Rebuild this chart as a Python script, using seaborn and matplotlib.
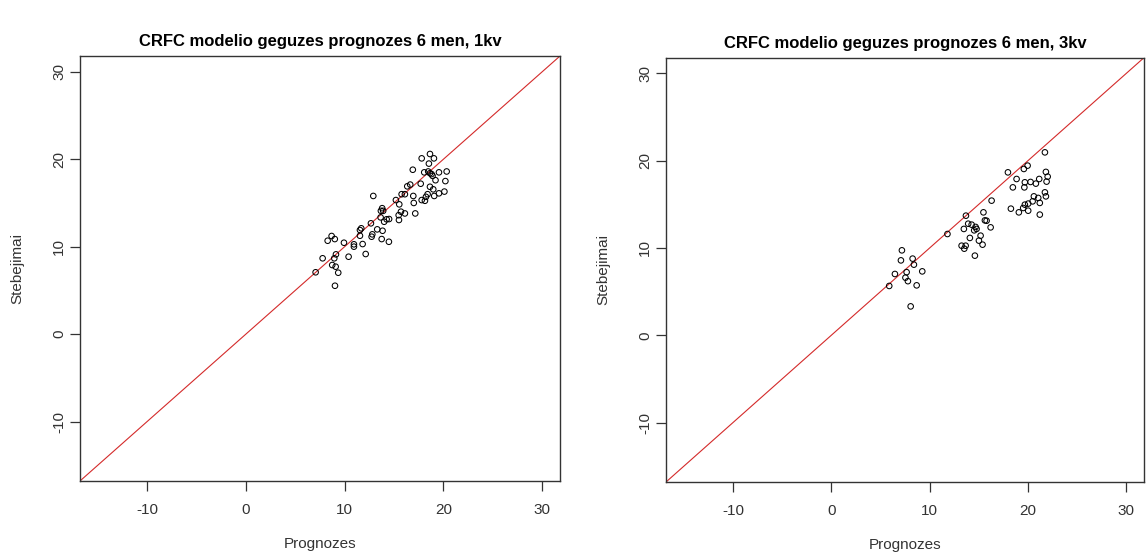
import matplotlib
matplotlib.use("Agg")
import matplotlib.pyplot as plt
import seaborn as sns
import numpy as np
import pandas as pd

# ---- data ----
titles = ["CRFC modelio geguzes prognozes 6 men, 1kv",
          "CRFC modelio geguzes prognozes 6 men, 3kv"]
xlabel = "Prognozes"
ylabel = "Stebejimai"
ticks = [-10, 0, 10, 20, 30]
lims = [-15, 30]

prog_1kv = [17.8, 18.64, 19.04, 18.53, 16.9, 18.06, 18.46, 18.64, 18.8, 18.9,
            19.55, 20.33, 19.2, 20.2, 17.7, 16.64, 16.34, 18.64, 18.97, 20.1,
            19.55, 19.07, 18.4, 18.23, 17.8, 18.13, 16.95, 17.0, 16.1, 15.77,
            12.9, 15.19, 15.53, 17.15, 16.1, 15.7, 15.47, 15.5, 13.8, 13.9,
            13.67, 14.25, 14.5, 14.0, 13.64, 12.66, 11.68, 11.55, 11.55, 13.3,
            13.84, 12.8, 12.73, 13.75, 14.48, 9.93, 10.94, 10.94, 11.82, 12.13,
            10.4, 8.28, 8.68, 9.0, 9.12, 8.95, 8.74, 9.09, 9.35, 7.77,
            7.06, 9.02]
obs_1kv = [20.1, 20.6, 20.1, 19.5, 18.8, 18.5, 18.6, 18.4, 18.3, 18.1,
           18.5, 18.6, 17.6, 17.5, 17.2, 17.1, 16.9, 16.85, 16.56, 16.3,
           16.1, 15.8, 16.0, 15.7, 15.33, 15.25, 15.8, 15.0, 16.0, 16.0,
           15.8, 15.33, 14.84, 13.8, 13.8, 14.0, 13.6, 13.05, 14.4, 14.1,
           14.1, 13.13, 13.16, 12.85, 13.35, 12.67, 12.1, 11.9, 11.25, 11.98,
           11.82, 11.41, 11.14, 10.87, 10.56, 10.45, 10.27, 10.0, 10.3, 9.16,
           8.85, 10.68, 11.22, 10.87, 9.12, 8.67, 7.9, 7.71, 7.02, 8.67,
           7.07, 5.53]

prog_3kv = [21.72, 19.96, 19.58, 17.96, 18.84, 18.46, 19.68, 19.63, 20.26, 20.8,
            21.14, 21.82, 22.0, 21.89, 20.6, 21.04, 20.47, 20.02, 19.68, 19.51,
            19.07, 18.26, 20.02, 21.2, 21.72, 21.82, 21.2, 16.3, 15.47, 13.69,
            15.62, 15.79, 16.2, 13.92, 13.48, 14.27, 14.67, 14.53, 14.77, 14.09,
            15.18, 15.01, 15.38, 13.25, 13.52, 13.66, 14.6, 11.81, 7.18, 7.08,
            8.27, 8.4, 9.25, 6.47, 7.66, 7.54, 7.79, 8.68, 5.89, 8.07]
obs_3kv = [20.95, 19.43, 19.05, 18.66, 17.9, 16.94, 17.52, 16.94, 17.56, 17.37,
           17.9, 18.71, 18.17, 17.6, 15.91, 15.73, 15.34, 15.08, 14.96, 14.58,
           14.08, 14.5, 14.27, 15.16, 16.37, 15.91, 13.82, 15.42, 14.08, 13.7,
           13.16, 13.12, 12.36, 12.78, 12.18, 12.67, 12.41, 12.02, 12.18, 11.15,
           11.41, 10.84, 10.38, 10.26, 9.92, 10.26, 9.12, 11.6, 9.73, 8.58,
           8.78, 8.09, 7.32, 7.02, 7.23, 6.6, 6.2, 5.72, 5.65, 3.31]

panels = [
    pd.DataFrame({"prog": prog_1kv, "obs": obs_1kv}),
    pd.DataFrame({"prog": prog_3kv, "obs": obs_3kv}),
]

sns.set_style("white")
plt.rcParams["font.family"] = ["Liberation Sans", "DejaVu Sans"]

fig = plt.figure(figsize=(11.46, 5.54), dpi=100)
axes = [fig.add_axes([0.0698, 0.1318, 0.4188, 0.767]),
        fig.add_axes([0.5812, 0.1300, 0.4171, 0.766])]

span = lims[1] - lims[0]
lo, hi = lims[0] - 0.04 * span, lims[1] + 0.04 * span

for ax, df, title in zip(axes, panels, titles):
    ax.axline((0, 0), slope=1, color="#d42a2a", lw=0.8, zorder=1)
    sns.scatterplot(data=df, x="prog", y="obs", ax=ax, marker="o", s=16,
                    facecolor="none", edgecolor="black", linewidth=0.75,
                    zorder=3)
    ax.set_xlim(lo, hi)
    ax.set_ylim(lo, hi)
    ax.set_xticks(ticks)
    ax.set_yticks(ticks)
    ax.set_xticklabels([str(t) for t in ticks], color="#333333", fontsize=11)
    ax.set_yticklabels([str(t) for t in ticks], color="#333333", fontsize=11,
                       rotation=90, va="center")
    ax.tick_params(axis="both", direction="out", length=7, width=0.9,
                   color="#333333", bottom=True, left=True)
    ax.tick_params(axis="x", pad=9)
    ax.tick_params(axis="y", pad=3)
    for sp in ax.spines.values():
        sp.set_visible(True)
        sp.set_color("#333333")
        sp.set_linewidth(1.0)
    ax.set_xlabel(xlabel, fontsize=11, color="#333333", labelpad=14)
    ax.set_ylabel(ylabel, fontsize=11, color="#333333", labelpad=20)
    ax.set_title(title, fontsize=12, fontweight="bold", color="black", pad=7)

fig.savefig("out.png", dpi=100)
